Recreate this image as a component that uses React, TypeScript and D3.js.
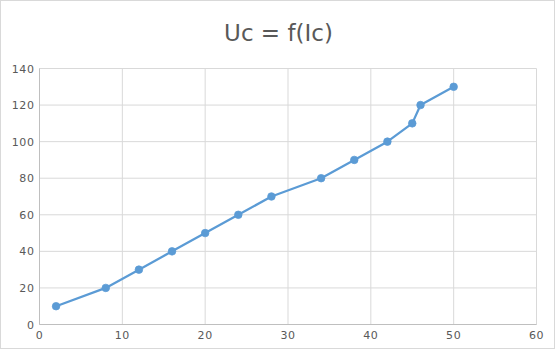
import React from "react";
import * as d3 from "d3";

const title = "Uc = f(Ic)";
const xValues = [2, 8, 12, 16, 20, 24, 28, 34, 38, 42, 45, 46, 50];
const yValues = [10, 20, 30, 40, 50, 60, 70, 80, 90, 100, 110, 120, 130];
const xTicks = [0, 10, 20, 30, 40, 50, 60];
const yTicks = [0, 20, 40, 60, 80, 100, 120, 140];

const W = 555;
const H = 349;
const left = 39.5;
const right = 536.5;
const top = 68.5;
const bottom = 324.5;

export default function App() {
  const x = d3.scaleLinear().domain([0, 60]).range([left, right]);
  const y = d3.scaleLinear().domain([0, 140]).range([bottom, top]);
  const pts = xValues.map((v, i) => [v, yValues[i]] as [number, number]);
  const line = d3
    .line<[number, number]>()
    .x((d) => x(d[0]))
    .y((d) => y(d[1]));
  const font = "'DejaVu Sans', sans-serif";
  return (
    <svg
      width={W}
      height={H}
      style={{ position: "absolute", left: 0, top: 0 }}
    >
      <rect x={0.5} y={0.5} width={W - 1} height={H - 1} fill="#fff" stroke="#D9D9D9" />
      <text
        x={W / 2 + 1}
        y={41}
        textAnchor="middle"
        fontFamily={font}
        fontSize={23}
        fill="#595959"
      >
        {title}
      </text>
      {yTicks.map((t) => (
        <line key={"gy" + t} x1={left} x2={right} y1={y(t)} y2={y(t)} stroke="#D9D9D9" strokeWidth={1} />
      ))}
      {xTicks.map((t) => (
        <line key={"gx" + t} x1={x(t)} x2={x(t)} y1={top} y2={bottom} stroke="#D9D9D9" strokeWidth={1} />
      ))}
      <line x1={left} x2={right} y1={bottom} y2={bottom} stroke="#BFBFBF" />
      <line x1={left} x2={left} y1={top} y2={bottom} stroke="#BFBFBF" />
      {yTicks.map((t) => (
        <text
          key={"ty" + t}
          x={left - 5}
          y={y(t) + 4}
          textAnchor="end"
          fontFamily={font}
          fontSize={11}
          letterSpacing={0.6}
          fill="#595959"
        >
          {t}
        </text>
      ))}
      {xTicks.map((t) => (
        <text
          key={"tx" + t}
          x={x(t)}
          y={bottom + 14.5}
          textAnchor="middle"
          fontFamily={font}
          fontSize={11}
          letterSpacing={0.6}
          fill="#595959"
        >
          {t}
        </text>
      ))}
      <path d={line(pts) || ""} fill="none" stroke="#5B9BD5" strokeWidth={2.25} strokeLinejoin="round" strokeLinecap="round" />
      {pts.map((p, i) => (
        <circle key={i} cx={x(p[0])} cy={y(p[1])} r={3.8} fill="#5B9BD5" stroke="#5B9BD5" strokeWidth={0.75} />
      ))}
    </svg>
  );
}
